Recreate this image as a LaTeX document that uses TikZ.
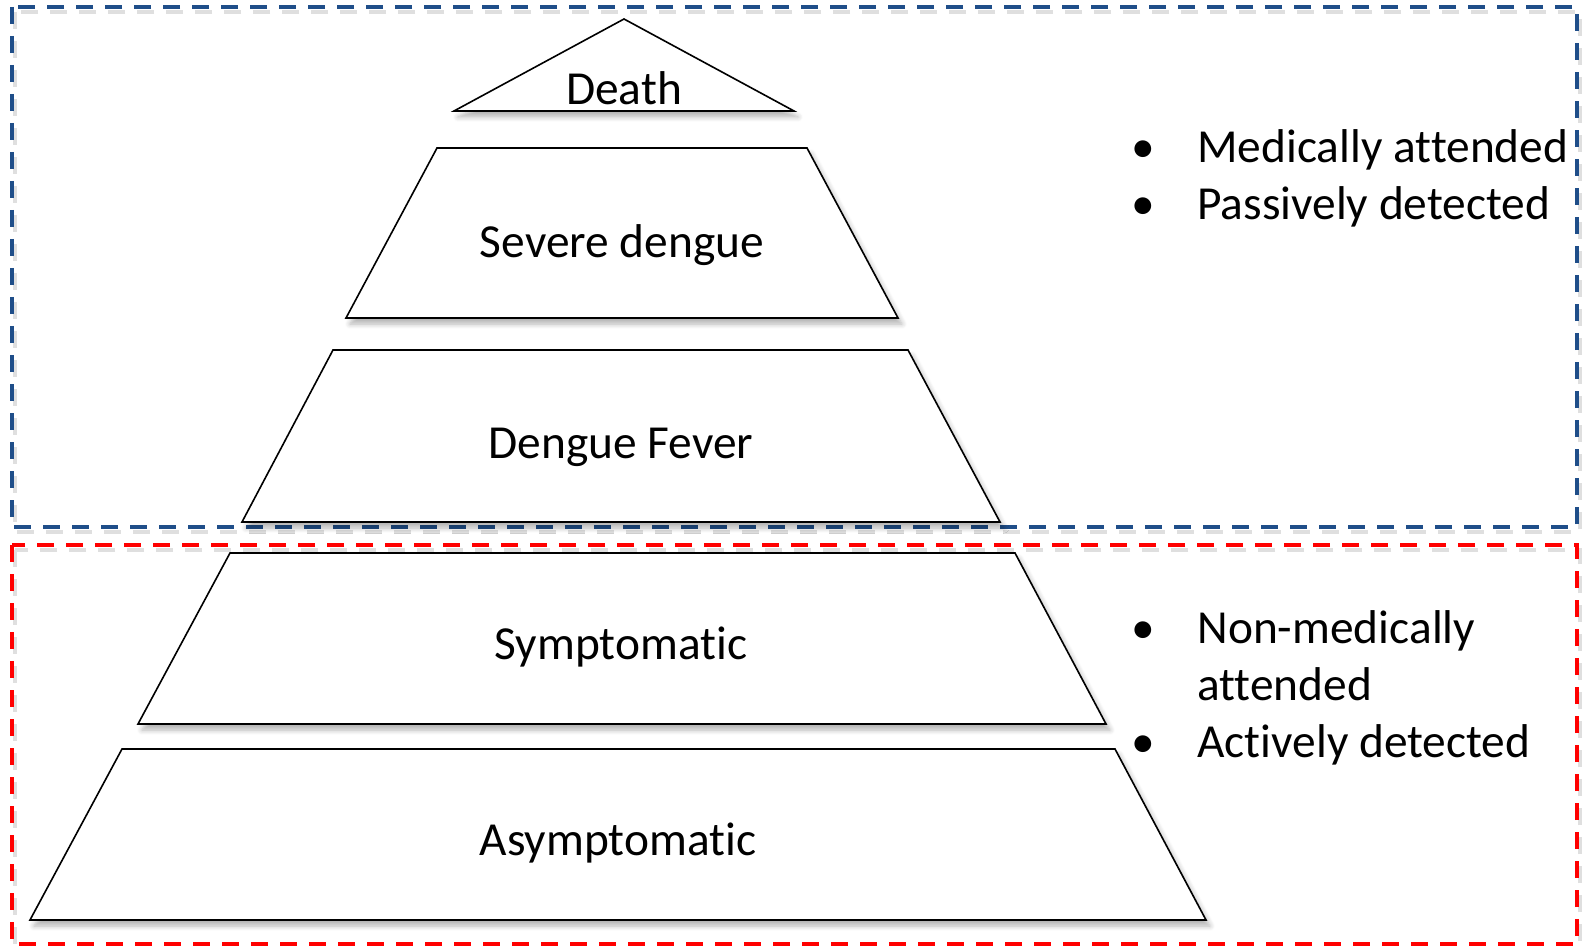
\documentclass[tikz,border=0pt]{standalone}
\usepackage{fontspec}
\setmainfont{Carlito}[Ligatures=NoCommon]
\usetikzlibrary{shadows.blur}

\definecolor{boxblue}{HTML}{1F4E89}
\definecolor{boxred}{HTML}{FF0000}

\tikzset{
  level/.style={draw=black, line width=0.8pt, fill=white, line join=miter,
    blur shadow={shadow xshift=2pt, shadow yshift=-3pt, shadow blur steps=6,
                 shadow opacity=30, shadow blur radius=2.5pt}},
  zone/.style={line width=2pt, dash pattern=on 8.5pt off 6pt},
  zoneshade/.style={zone, draw=black!25, opacity=0.5, xshift=1.5pt, yshift=-2.5pt},
  label/.style={inner sep=0pt, anchor=base, font=\fontsize{23.7}{28}\selectfont},
  note/.style={inner sep=0pt, anchor=base west, font=\fontsize{23.7}{28}\selectfont},
  dot/.style={inner sep=0pt, anchor=base, font=\fontsize{23.7}{28}\selectfont}
}

\begin{document}
\begin{tikzpicture}[x=0.5pt, y=-0.5pt]
  \useasboundingbox (0,0) rectangle (1588,946);

  % surveillance zones (dashed frames with a soft shade)
  \draw[zoneshade] (12,7) rectangle (1577,527);
  \draw[zoneshade] (12,545) rectangle (1577,944);
  \draw[zone, draw=boxblue] (12,7) rectangle (1577,527);
  \draw[zone, draw=boxred] (12,545) rectangle (1577,944);

  % pyramid levels
  \draw[level] (454,111) -- (624,19) -- (794,111) -- cycle;
  \draw[level] (437,148) -- (807,148) -- (898,318) -- (346,318) -- cycle;
  \draw[level] (333,350) -- (908,350) -- (1000,522) -- (242,522) -- cycle;
  \draw[level] (230,553) -- (1015,553) -- (1106,724) -- (138,724) -- cycle;
  \draw[level] (122,749) -- (1115,749) -- (1206,920) -- (30,920) -- cycle;

  % level labels
  \node[label] (death)  at (624,105) {Death};
  \node[label] (severe) at (622,258) {Severe dengue};
  \node[label] (fever)  at (621,458) {Dengue Fever};
  \node[label] (sympt)  at (621,659) {Symptomatic};
  \node[label] (asympt) at (618,855) {Asymptomatic};

  % detection notes, upper zone
  \node[dot]  (b1) at (1143,163) {\textbullet};
  \node[note] (n1) at (1197,163) {Medically attended};
  \node[dot]  (b2) at (1143,220) {\textbullet};
  \node[note] (n2) at (1197,220) {Passively detected};

  % detection notes, lower zone
  \node[dot]  (b3) at (1143,643) {\textbullet};
  \node[note] (n3) at (1197,643) {Non-medically};
  \node[note] (n4) at (1197,700) {attended};
  \node[dot]  (b4) at (1143,757) {\textbullet};
  \node[note] (n5) at (1197,757) {Actively detected};
\end{tikzpicture}
\end{document}
